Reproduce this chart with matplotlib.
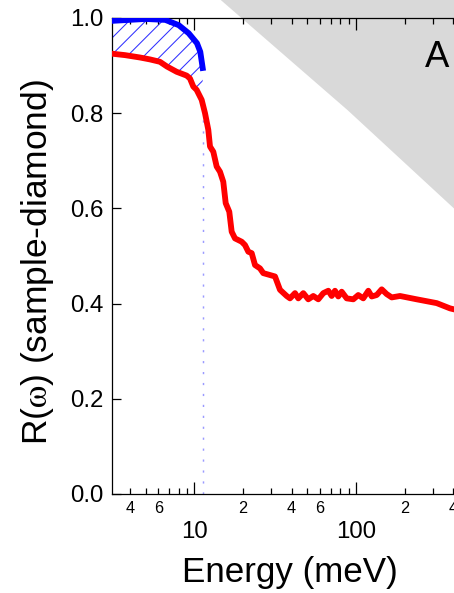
import numpy as np
import matplotlib
matplotlib.use('Agg')
import matplotlib.pyplot as plt
from matplotlib.ticker import LogLocator, FuncFormatter, FixedLocator

plt.rcParams['font.family'] = ['Liberation Sans', 'DejaVu Sans']
plt.rcParams['mathtext.fontset'] = 'stix'
plt.rcParams['hatch.linewidth'] = 0.5

# measured reflectance (meV, R)
energy_red = [3.10, 3.73, 4.62, 5.32, 6.13, 6.78, 7.78, 8.97, 9.40, 9.86,
              10.34, 11.11, 11.65, 12.21, 12.51, 13.11, 13.75, 14.42, 15.11, 15.64,
              16.46, 17.03, 17.85, 19.64, 20.59, 21.58, 22.65, 23.74, 25.48, 26.71,
              29.39, 31.56, 33.88, 37.27, 39.06, 41.96, 43.98, 47.22, 50.70, 54.44,
              58.46, 62.79, 67.43, 70.74, 74.15, 77.71, 81.56, 87.58, 96.23, 103.3,
              110.9, 119.2, 125.1, 134.3, 144.2, 154.8, 166.3, 187.1, 237.4, 315.6,
              381.3, 450.0]
refl_red = [0.925, 0.922, 0.917, 0.913, 0.908, 0.898, 0.887, 0.879, 0.873, 0.856,
            0.849, 0.828, 0.800, 0.765, 0.730, 0.719, 0.688, 0.677, 0.656, 0.611,
            0.593, 0.551, 0.537, 0.530, 0.523, 0.509, 0.506, 0.481, 0.474, 0.464,
            0.460, 0.457, 0.429, 0.416, 0.411, 0.422, 0.411, 0.422, 0.409, 0.416,
            0.409, 0.422, 0.427, 0.416, 0.427, 0.415, 0.425, 0.411, 0.409, 0.418,
            0.411, 0.427, 0.415, 0.418, 0.430, 0.420, 0.413, 0.416, 0.409, 0.401,
            0.390, 0.384]

# low-energy extrapolation
energy_blue = [3.10, 3.93, 4.98, 6.62, 8.01, 9.23, 10.39, 10.89, 11.27]
refl_blue = [0.994, 0.996, 0.998, 0.996, 0.985, 0.968, 0.947, 0.929, 0.895]

# grey region boundary
shade_energy = [12.0, 14.57, 88.4, 403.6, 1000.0]
shade_edge = [1.063, 1.038, 0.807, 0.600, 0.477]

yticks = [0.0, 0.2, 0.4, 0.6, 0.8, 1.0]

fig = plt.figure(figsize=(454 / 150, 593 / 150), dpi=150)
ax = fig.add_axes([111.7 / 454, 99 / 593, 406 / 454, 476 / 593])
ax.set_xscale('log')

ax.fill_between(shade_energy, shade_edge, 1.3, color='#d9d9d9', lw=0,
                zorder=0, clip_on=False)

red_on_blue = np.interp(np.log10(energy_blue), np.log10(energy_red), refl_red)
ax.fill_between(energy_blue, red_on_blue, refl_blue, facecolor='none',
                edgecolor='#3030ff', hatch='///', linewidth=0, zorder=1)
ax.plot([energy_blue[-1]] * 2, [0, red_on_blue[-1]], color='#9a9aff',
        lw=0.7, dashes=(1.5, 6), zorder=1)

ax.plot(energy_blue, refl_blue, color='#0000ff', lw=2.8, zorder=3)
ax.plot(energy_red, refl_red, color='#ff0000', lw=2.8, zorder=4)

ax.set_xlim(3.085, 1000)
ax.set_ylim(0, 1.0)

ax.xaxis.set_major_locator(LogLocator(base=10, numticks=10))
ax.xaxis.set_minor_locator(LogLocator(base=10, subs=np.arange(2, 10), numticks=30))
ax.xaxis.set_major_formatter(FuncFormatter(lambda v, p: f'{v:g}'))


def minor_label(v, pos):
    lead = int(round(v / 10 ** np.floor(np.log10(v))))
    return str(lead) if lead in (2, 4, 6) else ''


ax.xaxis.set_minor_formatter(FuncFormatter(minor_label))
ax.yaxis.set_major_locator(FixedLocator(yticks))
ax.yaxis.set_major_formatter(FuncFormatter(lambda v, p: f'{v:.1f}'))

ax.tick_params(axis='x', which='major', direction='in', length=5.6, width=0.6,
               top=True, labelsize=11.5, pad=13)
ax.tick_params(axis='x', which='minor', direction='in', length=2.9, width=0.6,
               top=True, labelsize=7.8, pad=3.5)
ax.tick_params(axis='y', direction='in', length=4.3, width=0.6, labelsize=11.5,
               pad=4)
for s in ax.spines.values():
    s.set_linewidth(0.6)

ax.set_xlabel('Energy (meV)', fontsize=16.8)
ax.xaxis.set_label_coords(0.439, -0.13)
ax.set_ylabel(r'R($\mathrm{\omega}$) (sample-diamond)', fontsize=17)
ax.yaxis.set_label_coords(-0.138, 0.488)

ax.text(317, 0.916, 'A', fontsize=17.5, ha='center', va='center')

fig.savefig('out.png', dpi=150)
